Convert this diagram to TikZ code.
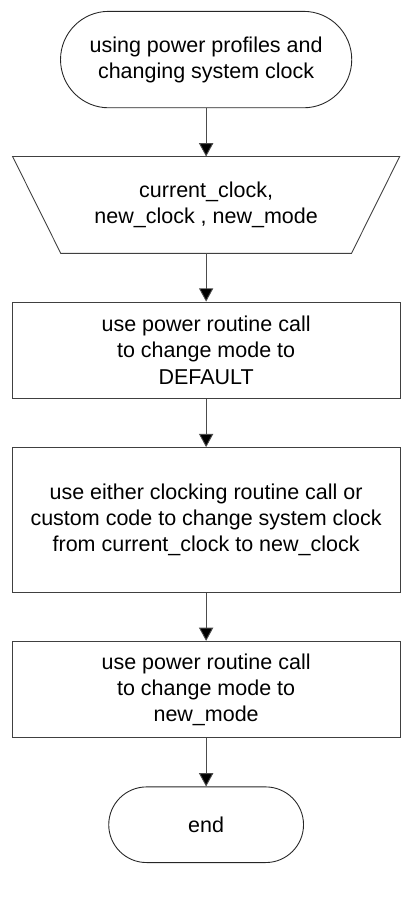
\documentclass[tikz,border=0pt]{standalone}
\usepackage{fontspec}
\setmainfont{Liberation Sans}
\usetikzlibrary{positioning,arrows.meta}

\begin{document}
\begin{tikzpicture}[
  node distance = 1.53cm,
  every node/.style = {font=\fontsize{19.4}{23.6}\selectfont, align=center, inner sep=0pt},
  term/.style = {draw=black!85, line width=0.8pt, rounded corners=1.53cm, minimum width=9.24cm, minimum height=3.06cm},
  inbox/.style = {minimum width=12.27cm, minimum height=3.06cm},
  box/.style = {draw=black!75, line width=0.8pt, minimum width=12.3cm, minimum height=3.06cm},
  flow/.style = {draw=black!70, line width=0.8pt, -{Triangle[width=0.45cm,length=0.42cm,fill=black]}}
]

\useasboundingbox (0,0) rectangle (13.08,-28.65);

\node[term] (start) at (6.54,-1.89) {using power profiles and\\changing system clock};
\node[inbox, below=of start] (inp) {current\_clock,\\new\_clock , new\_mode};
\node[box, below=of inp] (dflt) {use power routine call\\to change mode to\\DEFAULT};
\node[box, below=of dflt, minimum height=4.59cm] (clk) {use either clocking routine call or\\custom code to change system clock\\from current\_clock to new\_clock};
\node[box, below=of clk] (mode) {use power routine call\\to change mode to\\new\_mode};
\node[term, below=of mode, minimum width=6.18cm, minimum height=2.4cm, rounded corners=1.2cm] (stop) {end};

\draw[draw=black!75, line width=0.8pt] (inp.north west) -- (inp.north east) -- ([xshift=-1.53cm]inp.south east)
  -- ([xshift=1.53cm]inp.south west) -- cycle;

\draw[flow] (start) -- (inp);
\draw[flow] (inp) -- (dflt);
\draw[flow] (dflt) -- (clk);
\draw[flow] (clk) -- (mode);
\draw[flow] (mode) -- (stop);

\end{tikzpicture}
\end{document}
